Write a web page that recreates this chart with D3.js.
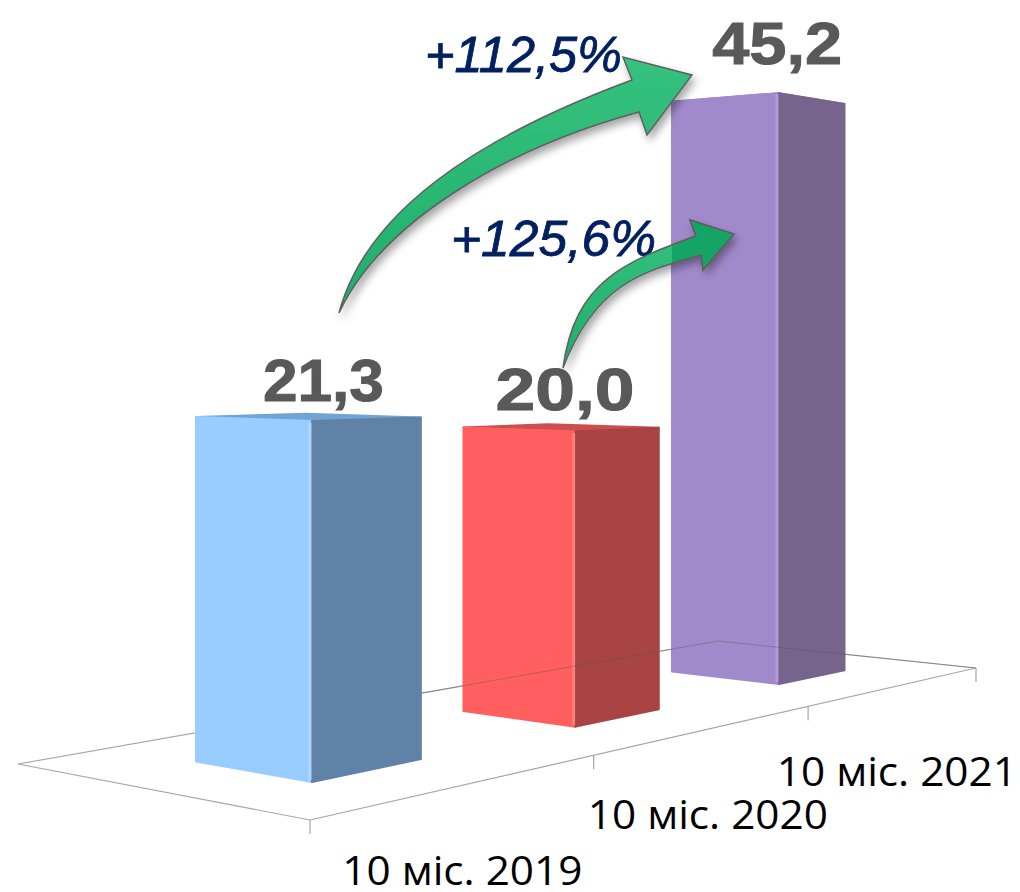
<!DOCTYPE html>
<html>
<head>
<meta charset="utf-8">
<script src="https://cdn.jsdelivr.net/npm/d3@7"></script>
<style>
  html, body { margin: 0; padding: 0; background: #fff; }
  svg { display: block; }
</style>
</head>
<body>
<svg id="chart" width="1020" height="892"></svg>
<script>
// data
const categories = ["10 міс. 2019", "10 міс. 2020", "10 міс. 2021"];
const values = [21.3, 20.0, 45.2];
const valueLabels = ["21,3", "20,0", "45,2"];
const growthLabels = ["+112,5%", "+125,6%"];

// styles and layout
const leftFace = ["#99ccff", "#ff5f5f", "#a18acb"];
const rightFace = ["#6082a6", "#a84444", "#77648c"];
const topFace = ["#73a3d4", "#cc4f4f", "#8c78b0"];
const edgeLight = ["#aed6ff", "#ff7c7c", "#b29cd9"];
const floorCorners = [[310, 820], [976, 668], [718, 641], [18, 764]]; // front, right, back, left
const labelNudge = [[16, -16.5], [5, -18], [20, -38.5]];
const labelWidth = [121, 139, 130];

const svg = d3.select("#chart");

// floor plane: unit square -> picture, so the 3d box keeps its perspective
const [p0, p1, p2, p3] = floorCorners;
const dx1 = p1[0] - p2[0], dx2 = p3[0] - p2[0], sx = p0[0] - p1[0] + p2[0] - p3[0];
const dy1 = p1[1] - p2[1], dy2 = p3[1] - p2[1], sy = p0[1] - p1[1] + p2[1] - p3[1];
const den = dx1 * dy2 - dx2 * dy1;
const g = (sx * dy2 - dx2 * sy) / den;
const h = (dx1 * sy - sx * dy1) / den;
const a = p1[0] - p0[0] + g * p1[0], b = p3[0] - p0[0] + h * p3[0];
const d = p1[1] - p0[1] + g * p1[1], e = p3[1] - p0[1] + h * p3[1];

function project(u, v, z) {
  const w = g * u + h * v + 1;
  return [(a * u + b * v + p0[0]) / w, (d * u + e * v + p0[1]) / w - (z || 0) / w];
}

const x = d3.scaleBand().domain(categories).range([0, 1]).paddingInner(0.62).paddingOuter(0.31).align(0.487);
const tick = d3.scalePoint().domain(d3.range(categories.length + 1)).range([0, 1]);
const z = d3.scaleLinear().domain([0, 50]).range([0, 921]);
const depth = [0.295, 0.695];

const line = d3.line();
const defs = svg.append("defs");

const shadow = defs.append("filter").attr("id", "shadow")
  .attr("x", "-20%").attr("y", "-20%").attr("width", "150%").attr("height", "150%");
shadow.append("feDropShadow").attr("dx", 3).attr("dy", 5).attr("stdDeviation", 4)
  .attr("flood-color", "#000").attr("flood-opacity", 0.36);

const green = defs.append("linearGradient").attr("id", "green")
  .attr("x1", 0).attr("y1", 0).attr("x2", 0).attr("y2", 1);
green.append("stop").attr("offset", "0%").attr("stop-color", "#35c27e");
green.append("stop").attr("offset", "100%").attr("stop-color", "#20ad6b");

// floor and ticks
svg.append("path")
  .attr("d", line(floorCorners) + "Z")
  .attr("fill", "none").attr("stroke", "#a6a6a6").attr("stroke-width", 1.2);
svg.append("g").selectAll("line").data(tick.domain()).enter().append("line")
  .attr("x1", t => project(tick(t), 0)[0])
  .attr("x2", t => project(tick(t), 0)[0])
  .attr("y1", t => project(tick(t), 0)[1])
  .attr("y2", t => project(tick(t), 0)[1] + 14)
  .attr("stroke", "#a6a6a6").attr("stroke-width", 1.2);

// bars
const bars = svg.append("g").selectAll("g").data(categories).enter().append("g");

function face(sel, pts, fill) {
  sel.append("path").attr("d", line(pts) + "Z")
    .attr("fill", fill).attr("stroke", fill).attr("stroke-width", 2).attr("stroke-linejoin", "round");
}

bars.each(function (c, i) {
  const u0 = x(c), u1 = x(c) + x.bandwidth();
  const [v0, v1] = depth;
  const t = z(values[i]);
  const sel = d3.select(this);
  face(sel, [project(u0, v0, t), project(u1, v0, t), project(u1, v1, t), project(u0, v1, t)], topFace[i]);
  face(sel, [project(u0, v1, 0), project(u0, v0, 0), project(u0, v0, t), project(u0, v1, t)], leftFace[i]);
  face(sel, [project(u0, v0, 0), project(u1, v0, 0), project(u1, v0, t), project(u0, v0, t)], rightFace[i]);
  // bright bevel along the front corner
  sel.append("path")
    .attr("d", line([project(u0, v0, 2), project(u0, v0, t - 2)]))
    .attr("stroke", edgeLight[i]).attr("stroke-width", 3)
    .attr("transform", "translate(-2,0)").attr("fill", "none");
});

// back edges of the floor show through the 2nd and 3rd bar
defs.append("clipPath").attr("id", "pastFirst").append("rect")
  .attr("x", project(x(categories[0]) + x.bandwidth(), depth[0])[0] + 1)
  .attr("y", 0).attr("width", 1020).attr("height", 892);
svg.append("path")
  .attr("clip-path", "url(#pastFirst)")
  .attr("d", line([p3, p2, p1]))
  .attr("fill", "none").attr("stroke", "#555").attr("stroke-opacity", 0.4).attr("stroke-width", 1);

// value labels
svg.append("g").selectAll("text").data(categories).enter().append("text")
  .attr("x", (c, i) => project(x(c) + x.bandwidth() / 2, 0.5, z(values[i]))[0] + labelNudge[i][0])
  .attr("y", (c, i) => project(x(c) + x.bandwidth() / 2, 0.5, z(values[i]))[1] + labelNudge[i][1])
  .attr("text-anchor", "middle")
  .attr("textLength", (c, i) => labelWidth[i])
  .attr("lengthAdjust", "spacingAndGlyphs")
  .attr("font-family", "'Liberation Sans', Arial, sans-serif")
  .attr("font-weight", "bold").attr("font-size", 60).attr("fill", "#595959")
  .attr("stroke", "#595959").attr("stroke-width", 1)
  .text((c, i) => valueLabels[i]);

// category labels under the front edge
svg.append("g").selectAll("text").data(categories).enter().append("text")
  .attr("x", (c, i) => project(tick(i) + 1 / 6, 0)[0])
  .attr("y", (c, i) => project(tick(i) + 1 / 6, 0)[1] + 99.5)
  .attr("text-anchor", "middle")
  .attr("textLength", 240)
  .attr("lengthAdjust", "spacingAndGlyphs")
  .attr("font-family", "'Open Sans', sans-serif")
  .attr("font-size", 40).attr("fill", "#000")
  .text(c => c);

// growth labels
const growthAt = [[425, 72, 197], [451, 256, 205]];
svg.append("g").selectAll("text").data(growthLabels).enter().append("text")
  .attr("x", (s, i) => growthAt[i][0])
  .attr("y", (s, i) => growthAt[i][1])
  .attr("textLength", (s, i) => growthAt[i][2])
  .attr("lengthAdjust", "spacingAndGlyphs")
  .attr("font-family", "'Liberation Sans', Arial, sans-serif").attr("font-style", "italic")
  .attr("font-size", 50).attr("fill", "#002060")
  .attr("stroke", "#002060").attr("stroke-width", 0.8)
  .text(s => s);

// arrows
const arrows = [
  "M339,313 C365,215 470,140 632,80 L623,57 L692,75 L647,135 L639,112 C500,150 380,225 339,313 Z",
  "M563,368 C575,280 625,262 696,236 L690,220 L734,234 L703,270 L701,255 C640,272 595,285 563,368 Z"
];
svg.append("g").selectAll("path").data(arrows).enter().append("path")
  .attr("d", s => s)
  .attr("fill", "url(#green)")
  .attr("stroke", "#5f5f5f").attr("stroke-width", 1.5).attr("stroke-linejoin", "miter")
  .attr("filter", "url(#shadow)");

// the lower arrow turns darker where it crosses the tall bar
defs.append("clipPath").attr("id", "overTall").append("rect")
  .attr("x", project(x(categories[2]), depth[1])[0])
  .attr("y", 0).attr("width", 1020).attr("height", 892);
svg.append("path")
  .attr("clip-path", "url(#overTall)")
  .attr("d", arrows[1])
  .attr("fill", "#14a566")
  .attr("stroke", "#5f5f5f").attr("stroke-width", 1.5);
</script>
</body>
</html>
